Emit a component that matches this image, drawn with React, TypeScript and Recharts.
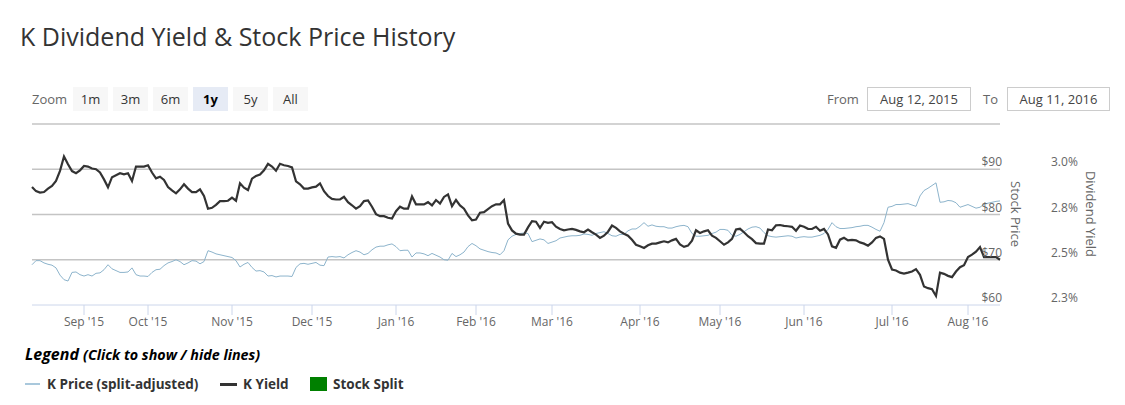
import { LineChart, Line, XAxis, YAxis, CartesianGrid } from "recharts";

// x axis = trading session index (ordinal, as in the source stock chart)
const monthTicks = [13, 29, 50, 70, 91, 111, 130, 152, 172, 193, 215, 234];
const monthLabels = [
	"Sep '15", "Oct '15", "Nov '15", "Dec '15", "Jan '16", "Feb '16",
	"Mar '16", "Apr '16", "May '16", "Jun '16", "Jul '16", "Aug '16",
];

// K price (split-adjusted), $ per session
const priceValues = [
	68.9, 69.8, 69.8, 69.3, 69.0, 68.8, 68.2, 66.6, 65.6, 65.3,
	67.2, 67.3, 66.7, 66.4, 66.7, 66.4, 67.0, 67.1, 67.8, 68.9,
	68.0, 67.6, 67.2, 67.2, 67.3, 68.2, 66.7, 66.4, 66.4, 66.3,
	67.2, 67.8, 67.9, 68.7, 69.3, 69.6, 70.0, 69.6, 68.9, 69.3,
	69.8, 69.7, 69.1, 69.6, 72.0, 71.7, 71.3, 71.1, 70.9, 70.7,
	70.5, 69.8, 68.4, 69.0, 69.4, 68.3, 67.5, 67.6, 67.3, 66.4,
	66.5, 66.2, 66.4, 66.4, 66.4, 66.3, 68.3, 69.1, 69.2, 69.0,
	69.2, 69.4, 68.8, 68.7, 70.6, 70.7, 70.6, 70.7, 70.4, 71.1,
	71.6, 72.0, 71.7, 71.1, 71.4, 72.2, 72.8, 73.0, 73.0, 73.3,
	73.5, 72.9, 72.0, 72.1, 72.1, 70.6, 71.5, 71.5, 71.3, 70.9,
	71.4, 71.0, 70.6, 70.0, 69.9, 71.4, 70.7, 71.1, 71.7, 72.9,
	73.6, 73.1, 72.4, 72.1, 71.8, 71.6, 71.5, 71.1, 72.0, 74.4,
	75.2, 75.6, 75.8, 75.9, 75.8, 74.0, 74.3, 74.6, 74.4, 73.6,
	73.9, 74.2, 74.8, 75.0, 75.2, 75.3, 75.3, 75.4, 75.7, 75.6,
	75.4, 75.8, 76.0, 76.2, 75.8, 75.3, 75.2, 75.6, 75.6, 76.4,
	76.8, 76.8, 77.4, 78.2, 77.4, 77.7, 77.4, 77.3, 77.3, 77.0,
	77.0, 77.3, 77.5, 77.6, 77.3, 75.8, 75.2, 75.2, 75.3, 75.4,
	75.8, 76.1, 76.7, 76.7, 76.5, 75.4, 75.2, 75.6, 76.2, 76.8,
	77.2, 77.3, 77.0, 76.0, 75.3, 75.1, 75.0, 75.1, 75.2, 75.3,
	75.2, 74.8, 75.0, 75.1, 75.0, 75.0, 75.2, 75.4, 75.8, 76.7,
	78.2, 77.3, 76.9, 76.9, 77.0, 77.1, 77.3, 77.4, 77.6, 77.6,
	77.2, 76.7, 76.3, 78.2, 81.6, 81.8, 82.2, 82.2, 82.3, 82.4,
	82.1, 81.8, 84.1, 85.3, 85.8, 86.4, 87.0, 82.7, 82.8, 83.1,
	83.0, 82.6, 81.6, 81.9, 82.2, 81.8, 81.4, 81.6, 82.3, 82.5,
	82.7, 82.9, 83.0,
];

// K dividend yield, % per session
const yieldValues = [
	2.902, 2.879, 2.871, 2.874, 2.893, 2.908, 2.935, 2.991, 3.071, 3.028,
	2.990, 2.978, 2.994, 3.018, 3.015, 3.004, 3.000, 2.982, 2.944, 2.900,
	2.956, 2.967, 2.978, 2.972, 2.978, 2.935, 3.015, 3.015, 3.015, 3.022,
	2.982, 2.950, 2.959, 2.941, 2.902, 2.883, 2.867, 2.889, 2.917, 2.893,
	2.874, 2.874, 2.889, 2.852, 2.782, 2.787, 2.803, 2.824, 2.824, 2.826,
	2.843, 2.826, 2.922, 2.898, 2.885, 2.948, 2.963, 2.971, 2.994, 3.030,
	3.015, 2.992, 3.030, 3.022, 3.018, 3.010, 2.933, 2.917, 2.893, 2.893,
	2.900, 2.904, 2.922, 2.879, 2.852, 2.836, 2.833, 2.833, 2.848, 2.818,
	2.801, 2.782, 2.796, 2.824, 2.828, 2.793, 2.752, 2.741, 2.741, 2.732,
	2.728, 2.768, 2.793, 2.782, 2.782, 2.850, 2.806, 2.806, 2.806, 2.818,
	2.800, 2.830, 2.810, 2.847, 2.861, 2.796, 2.830, 2.800, 2.782, 2.745,
	2.718, 2.722, 2.760, 2.763, 2.780, 2.796, 2.806, 2.806, 2.830, 2.700,
	2.662, 2.644, 2.639, 2.639, 2.679, 2.713, 2.710, 2.676, 2.710, 2.704,
	2.707, 2.683, 2.670, 2.663, 2.667, 2.670, 2.665, 2.657, 2.652, 2.667,
	2.652, 2.639, 2.621, 2.633, 2.655, 2.689, 2.676, 2.657, 2.644, 2.633,
	2.610, 2.583, 2.574, 2.565, 2.580, 2.589, 2.589, 2.596, 2.602, 2.596,
	2.607, 2.615, 2.585, 2.571, 2.578, 2.605, 2.663, 2.648, 2.657, 2.663,
	2.633, 2.621, 2.602, 2.583, 2.596, 2.615, 2.667, 2.671, 2.652, 2.630,
	2.614, 2.592, 2.589, 2.589, 2.667, 2.663, 2.690, 2.692, 2.687, 2.685,
	2.682, 2.660, 2.689, 2.682, 2.671, 2.670, 2.682, 2.660, 2.670, 2.640,
	2.574, 2.566, 2.611, 2.621, 2.607, 2.610, 2.607, 2.596, 2.589, 2.578,
	2.596, 2.621, 2.629, 2.615, 2.500, 2.446, 2.441, 2.429, 2.424, 2.429,
	2.435, 2.448, 2.417, 2.352, 2.343, 2.337, 2.300, 2.429, 2.422, 2.411,
	2.404, 2.435, 2.459, 2.470, 2.515, 2.528, 2.545, 2.570, 2.515, 2.515,
	2.515, 2.515, 2.500,
];

const priceTicks = [60, 70, 80, 90, 100];
const yieldTicks = [2.25, 2.5, 2.75, 3.0, 3.25];
const zoomButtons = ["1m", "3m", "6m", "1y", "5y", "All"];
const activeZoom = "1y";
const fromDate = "Aug 12, 2015";
const toDate = "Aug 11, 2016";

const chartData = priceValues.map((p, i) => ({ t: i, price: p, yld: yieldValues[i] }));

const FONT = '"Open Sans", "Lucida Grande", Arial, sans-serif';
const PRICE_COLOR = "#8db4cc";
const YIELD_COLOR = "#333333";

function PriceTick(props: any) {
	const { y, payload } = props;
	if (payload.value === 100) return <g />;
	return (
		<text x={1002} y={y - 3} textAnchor="end" fontSize={12} fill="#666" fontFamily={FONT}>
			${payload.value}
		</text>
	);
}

function YieldTick(props: any) {
	const { y, payload } = props;
	if (payload.value === 3.25) return <g />;
	return (
		<text x={1051} y={y - 3} textAnchor="start" fontSize={12} fill="#666" fontFamily={FONT}>
			{payload.value.toFixed(1)}%
		</text>
	);
}

const boxStyle: React.CSSProperties = {
	position: "absolute",
	top: 87,
	height: 22,
	border: "1px solid #cccccc",
	lineHeight: "22px",
	textAlign: "center",
	fontSize: 13,
	color: "#444",
};

const legendText: React.CSSProperties = {
	position: "absolute",
	top: 374,
	lineHeight: "20px",
	fontSize: 13.5,
	fontWeight: "bold",
	color: "#333",
	whiteSpace: "nowrap",
};

export default function App() {
	return (
		<div style={{ position: "relative", width: 1125, height: 405, fontFamily: FONT, background: "#fff", overflow: "hidden" }}>
			<style>{`body{margin:0}`}</style>
			<div style={{ position: "absolute", left: 20, top: 19, fontSize: 25, lineHeight: "34px", color: "#333", whiteSpace: "nowrap" }}>
				K Dividend Yield &amp; Stock Price History
			</div>

			<div style={{ position: "absolute", left: 32, top: 87, height: 24, lineHeight: "24px", fontSize: 13, color: "#666" }}>
				Zoom
			</div>
			{zoomButtons.map((b, i) => (
				<div
					key={b}
					style={{
						position: "absolute",
						left: 73 + i * 40,
						top: 87,
						width: 35,
						height: 24,
						lineHeight: "24px",
						textAlign: "center",
						fontSize: 13,
						background: b === activeZoom ? "#e6ebf5" : "#f7f7f7",
						color: b === activeZoom ? "#000" : "#333",
						fontWeight: b === activeZoom ? "bold" : "normal",
					}}
				>
					{b}
				</div>
			))}

			<div style={{ position: "absolute", left: 827, top: 87, lineHeight: "24px", fontSize: 13, color: "#666" }}>From</div>
			<div style={{ ...boxStyle, left: 867, width: 102 }}>{fromDate}</div>
			<div style={{ position: "absolute", left: 983, top: 87, lineHeight: "24px", fontSize: 13, color: "#666" }}>To</div>
			<div style={{ ...boxStyle, left: 1007, width: 101 }}>{toDate}</div>

			<div style={{ position: "absolute", left: 0, top: 0 }}>
				<LineChart width={1125} height={340} data={chartData} margin={{ top: 124, right: 0, bottom: 5, left: 32 }}>
					<CartesianGrid yAxisId="price" vertical={false} horizontalValues={[70, 80, 90, 100]} stroke="#c4c4c4" strokeWidth={1.5} />
					<XAxis
						dataKey="t"
						type="number"
						domain={[0, 242]}
						ticks={monthTicks}
						interval={0}
						height={30}
						tickSize={10}
						tickFormatter={(v: number) => monthLabels[monthTicks.indexOf(v)]}
						tick={{ fill: "#666", fontSize: 12, fontFamily: FONT }}
						axisLine={{ stroke: "#ccd6eb" }}
						tickLine={{ stroke: "#ccd6eb" }}
					/>
					<YAxis
						yAxisId="price"
						orientation="right"
						domain={[60, 100]}
						ticks={priceTicks}
						interval={0}
						width={45}
						axisLine={false}
						tickLine={false}
						tick={(p: any) => <PriceTick {...p} />}
					/>
					<YAxis
						yAxisId="yield"
						orientation="right"
						domain={[2.25, 3.25]}
						ticks={yieldTicks}
						interval={0}
						width={80}
						axisLine={false}
						tickLine={false}
						tick={(p: any) => <YieldTick {...p} />}
					/>
					<Line
						yAxisId="price"
						type="linear"
						dataKey="price"
						stroke={PRICE_COLOR}
						strokeWidth={1}
						dot={false}
						activeDot={false}
						isAnimationActive={false}
					/>
					<Line
						yAxisId="yield"
						type="linear"
						dataKey="yld"
						stroke={YIELD_COLOR}
						strokeWidth={2.2}
						dot={false}
						activeDot={false}
						isAnimationActive={false}
					/>
				</LineChart>
			</div>

			<div style={{ position: "absolute", left: 1016, top: 214, transform: "translate(-50%, -50%)", writingMode: "vertical-rl", fontSize: 13, color: "#666", whiteSpace: "nowrap" }}>
				Stock Price
			</div>
			<div style={{ position: "absolute", left: 1091, top: 214, transform: "translate(-50%, -50%)", writingMode: "vertical-rl", fontSize: 13, color: "#666", whiteSpace: "nowrap" }}>
				Dividend Yield
			</div>

			<div style={{ position: "absolute", left: 25, top: 343, fontWeight: "bold", fontStyle: "italic", color: "#000", whiteSpace: "nowrap" }}>
				<span style={{ fontSize: 16 }}>Legend</span>{" "}
				<span style={{ fontSize: 14.3 }}>(Click to show / hide lines)</span>
			</div>

			<span style={{ position: "absolute", left: 25, top: 383, width: 15, height: 2, background: "#a9c8dc" }} />
			<span style={{ ...legendText, left: 47 }}>K Price (split-adjusted)</span>
			<span style={{ position: "absolute", left: 220, top: 383, width: 17, height: 3, background: YIELD_COLOR }} />
			<span style={{ ...legendText, left: 243 }}>K Yield</span>
			<span style={{ position: "absolute", left: 310, top: 377, width: 17, height: 14, background: "#008000" }} />
			<span style={{ ...legendText, left: 333 }}>Stock Split</span>
		</div>
	);
}
